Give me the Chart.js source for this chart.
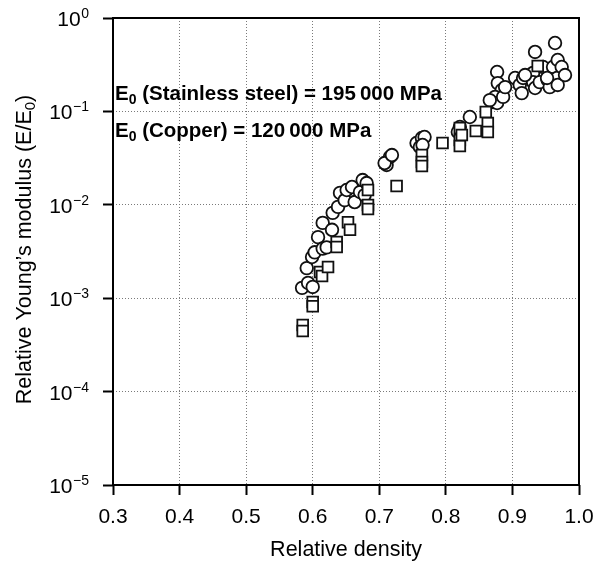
<!doctype html>
<html lang="en">
<head>
<meta charset="utf-8">
<title>Relative Young's modulus vs relative density</title>
<script src="https://cdn.jsdelivr.net/npm/chart.js@4.4.1/dist/chart.umd.min.js"></script>
<style>
  body { margin: 0; background: #fff; }
</style>
</head>
<body>
<canvas id="modChart" width="595" height="565"></canvas>
<script>
// stainless steel samples (circles)
var steelDensity = [0.584, 0.593, 0.600, 0.591, 0.599, 0.603, 0.608, 0.615, 0.621, 0.615,
  0.629, 0.630, 0.638, 0.641, 0.648, 0.651, 0.659, 0.663, 0.671, 0.675,
  0.681, 0.678, 0.711, 0.716, 0.708, 0.719, 0.756, 0.764, 0.768, 0.761,
  0.765, 0.836, 0.821, 0.818, 0.871, 0.877, 0.878, 0.884, 0.874, 0.877,
  0.886, 0.866, 0.889, 0.904, 0.911, 0.914, 0.916, 0.931, 0.934, 0.931,
  0.934, 0.941, 0.946, 0.953, 0.956, 0.961, 0.964, 0.968, 0.967, 0.968,
  0.974, 0.979, 0.919, 0.952];
var steelModulus = [0.00129, 0.00146, 0.00132, 0.0021, 0.00276, 0.0031, 0.0045, 0.0034, 0.0035, 0.0064,
  0.0054, 0.0082, 0.0095, 0.0134, 0.0112, 0.0144, 0.0155, 0.0107, 0.0137, 0.0184,
  0.0171, 0.0127, 0.0267, 0.0325, 0.028, 0.0341, 0.0459, 0.0519, 0.0532, 0.0416,
  0.0437, 0.0871, 0.0681, 0.0602, 0.126, 0.264, 0.201, 0.169, 0.143, 0.123,
  0.143, 0.132, 0.182, 0.228, 0.192, 0.157, 0.228, 0.258, 0.433, 0.206,
  0.178, 0.206, 0.299, 0.217, 0.182, 0.299, 0.54, 0.355, 0.228, 0.192,
  0.299, 0.245, 0.245, 0.228];

// copper samples (squares)
var copperDensity = [0.585, 0.585, 0.600, 0.600, 0.611, 0.614, 0.623, 0.636, 0.636, 0.653,
  0.656, 0.683, 0.683, 0.683, 0.726, 0.764, 0.764, 0.764, 0.795, 0.821,
  0.821, 0.821, 0.824, 0.845, 0.863, 0.863, 0.860, 0.938];
var copperModulus = [0.000516, 0.000446, 0.00091, 0.00082, 0.00191, 0.00173, 0.00216, 0.004, 0.00353, 0.0065,
  0.0054, 0.00995, 0.009, 0.0144, 0.0159, 0.0341, 0.0287, 0.026, 0.0459, 0.0664,
  0.0494, 0.0426, 0.0559, 0.0617, 0.0751, 0.0602, 0.0986, 0.306];

var xTicks = [0.3, 0.4, 0.5, 0.6, 0.7, 0.8, 0.9, 1.0];
var yTicks = [1e-5, 1e-4, 1e-3, 1e-2, 1e-1, 1];
var yTickExp = ['\u22125', '\u22124', '\u22123', '\u22122', '\u22121', '0'];

var notes = [
  ['E', '0', ' (Stainless steel) = 195\u2009000 MPa'],
  ['E', '0', ' (Copper) = 120\u2009000 MPa']
];

var FONT = '"Liberation Sans", Arial, sans-serif';

function points(xs, ys) {
  return xs.map(function (x, i) { return { x: x, y: ys[i] }; });
}

// text with a lowered/raised small piece in the middle: [before, small, after]
function drawSplit(ctx, parts, x, y, size, weight, shift) {
  var big = weight + ' ' + size + 'px ' + FONT;
  var small = weight + ' ' + Math.round(size * 0.68) + 'px ' + FONT;
  ctx.font = big;
  ctx.fillText(parts[0], x, y);
  x += ctx.measureText(parts[0]).width;
  ctx.font = small;
  ctx.fillText(parts[1], x, y + shift);
  x += ctx.measureText(parts[1]).width;
  ctx.font = big;
  ctx.fillText(parts[2], x, y);
}

function splitWidth(ctx, parts, size, weight) {
  ctx.font = weight + ' ' + size + 'px ' + FONT;
  var w = ctx.measureText(parts[0]).width + ctx.measureText(parts[2]).width;
  ctx.font = weight + ' ' + Math.round(size * 0.68) + 'px ' + FONT;
  return w + ctx.measureText(parts[1]).width;
}

var decor = {
  id: 'decor',
  afterDraw: function (chart) {
    var ctx = chart.ctx, a = chart.chartArea, ys = chart.scales.y;
    ctx.save();
    ctx.fillStyle = '#000';
    ctx.strokeStyle = '#000';

    // frame round the plot
    ctx.lineWidth = 2;
    ctx.strokeRect(a.left, a.top, a.right - a.left, a.bottom - a.top);

    // decade labels 10^n
    ctx.textAlign = 'left';
    ctx.textBaseline = 'alphabetic';
    for (var i = 0; i < yTicks.length; i++) {
      var py = ys.getPixelForValue(yTicks[i]);
      ctx.font = '14px ' + FONT;
      var ew = ctx.measureText(yTickExp[i]).width;
      ctx.fillText(yTickExp[i], 89 - ew, py);
      ctx.font = '21px ' + FONT;
      var bw = ctx.measureText('10').width;
      ctx.fillText('10', 89 - ew - bw - 0.5, py + 8);
    }

    // axis titles
    ctx.font = '21.5px ' + FONT;
    ctx.textAlign = 'center';
    ctx.fillText('Relative density', (a.left + a.right) / 2, 556);

    var yTitle = ['Relative Young\u2019s modulus (E/E', '0', ')'];
    ctx.save();
    ctx.translate(31, (a.top + a.bottom) / 2 - 2);
    ctx.rotate(-Math.PI / 2);
    ctx.textAlign = 'left';
    var tw = splitWidth(ctx, yTitle, 21.5, 'normal');
    drawSplit(ctx, yTitle, -tw / 2, 0, 21.5, 'normal', 4);
    ctx.restore();

    // reference moduli
    ctx.textAlign = 'left';
    drawSplit(ctx, notes[0], a.left + 2, 100, 20.5, 'bold', 4);
    drawSplit(ctx, notes[1], a.left + 2, 137, 20.5, 'bold', 4);
    ctx.restore();
  }
};

new Chart(document.getElementById('modChart'), {
  type: 'scatter',
  data: {
    datasets: [{
      label: 'Copper',
      data: points(copperDensity, copperModulus),
      pointStyle: 'rect',
      pointRadius: 7.6,
      backgroundColor: '#fff',
      borderColor: '#111',
      borderWidth: 1.8
    }, {
      label: 'Stainless steel',
      data: points(steelDensity, steelModulus),
      pointStyle: 'circle',
      pointRadius: 6.3,
      backgroundColor: '#fff',
      borderColor: '#111',
      borderWidth: 1.8
    }]
  },
  options: {
    responsive: false,
    animation: false,
    layout: { padding: { top: 18, right: 16, left: 0, bottom: 0 } },
    plugins: {
      legend: { display: false },
      tooltip: { enabled: false }
    },
    scales: {
      x: {
        type: 'linear',
        min: 0.3,
        max: 1.0,
        afterBuildTicks: function (s) { s.ticks = xTicks.map(function (v) { return { value: v }; }); },
        afterFit: function (s) { s.height = 80; s.paddingLeft = 0; s.paddingRight = 0; },
        ticks: {
          color: '#000',
          padding: 10,
          maxRotation: 0,
          font: { family: FONT, size: 21 },
          callback: function (v) { return v.toFixed(1); }
        },
        grid: {
          color: '#7a7a7a',
          lineWidth: 1,
          tickLength: 10,
          tickColor: '#000',
          tickWidth: 2,
          tickBorderDash: []
        },
        border: { display: false, dash: [1, 2] }
      },
      y: {
        type: 'logarithmic',
        min: 1e-5,
        max: 1,
        afterBuildTicks: function (s) { s.ticks = yTicks.map(function (v) { return { value: v }; }); },
        afterFit: function (s) { s.width = 113; s.paddingTop = 0; s.paddingBottom = 0; },
        ticks: { display: false },
        grid: {
          color: '#7a7a7a',
          lineWidth: 1,
          tickLength: 10,
          tickColor: '#000',
          tickWidth: 2,
          tickBorderDash: []
        },
        border: { display: false, dash: [1, 2] }
      }
    }
  },
  plugins: [decor]
});
</script>
</body>
</html>
